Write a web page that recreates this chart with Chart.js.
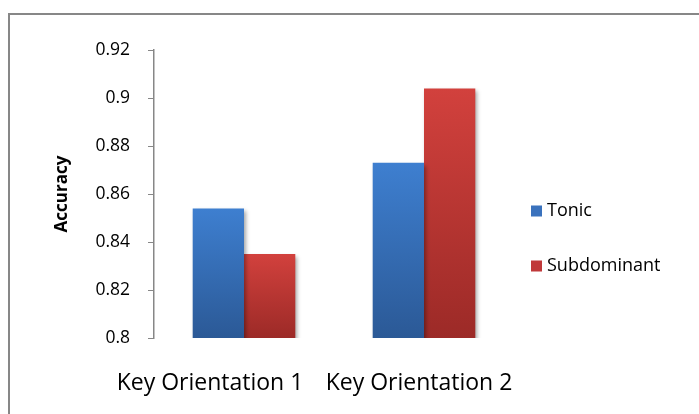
<!DOCTYPE html>
<html>
<head>
<meta charset="utf-8">
<script src="https://cdn.jsdelivr.net/npm/chart.js@4/dist/chart.umd.min.js"></script>
<style>
    html, body { margin: 0; padding: 0; background: #fff; }
    #wrap { position: relative; width: 699px; height: 414px; overflow: hidden; }
    #frame {
        position: absolute; left: 8px; top: 13px; right: -10px; bottom: -10px;
        border-left: 2px solid #878787; border-top: 2px solid #878787;
    }
    canvas { position: absolute; left: 0; top: 0; }
</style>
</head>
<body>
<div id="wrap">
    <div id="frame"></div>
    <canvas id="chart" width="699" height="414"></canvas>
</div>
<script>
// Данные графика
const categories = ['Key Orientation 1', 'Key Orientation 2'];
const seriesNames = ['Tonic', 'Subdominant'];
const tonicValues = [0.854, 0.873];
const subdominantValues = [0.835, 0.904];
const yTicks = [0.8, 0.82, 0.84, 0.86, 0.88, 0.9, 0.92];

const FONT = '"Open Sans", "Noto Sans", sans-serif';

// цвета градиента: верх / низ столбца
const palette = [
    { top: '#3e7fd0', bottom: '#2b5996', flat: '#3a72bd' },
    { top: '#d2413d', bottom: '#9c2a27', flat: '#c0393a' }
];

// сдвиг подписей категорий, как у Excel
const labelShift = [-34, -5];

function barGradient(ctx, idx) {
    const chart = ctx.chart;
    const c = palette[idx];
    if (!chart.chartArea || ctx.raw == null) return c.flat;
    const y = chart.scales.y;
    const top = y.getPixelForValue(ctx.raw);
    const bottom = y.getPixelForValue(y.min);
    const g = chart.ctx.createLinearGradient(0, top, 0, bottom);
    g.addColorStop(0, c.top);
    g.addColorStop(1, c.bottom);
    return g;
}

const extras = {
    id: 'extras',
    beforeDatasetsDraw(chart) {
        const ctx = chart.ctx;
        ctx.save();
        ctx.shadowColor = 'rgba(0,0,0,0.35)';
        ctx.shadowBlur = 4;
        ctx.shadowOffsetX = 2;
        ctx.shadowOffsetY = 3;
    },
    afterDatasetsDraw(chart) {
        chart.ctx.restore();
    },
    afterDraw(chart) {
        const ctx = chart.ctx;
        const x = chart.scales.x;
        const area = chart.chartArea;
        ctx.save();
        // подписи категорий
        ctx.fillStyle = '#000';
        ctx.font = '23px ' + FONT;
        ctx.textAlign = 'center';
        ctx.textBaseline = 'middle';
        categories.forEach((label, i) => {
            ctx.fillText(label, x.getPixelForValue(i) + labelShift[i], area.bottom + 45);
        });
        // легенда
        ctx.font = '18px ' + FONT;
        ctx.textAlign = 'left';
        chart.data.datasets.forEach((ds, i) => {
            const cy = 211 + i * 55;
            ctx.fillStyle = palette[i].flat;
            ctx.fillRect(area.right + 17, cy - 5.5, 11, 11);
            ctx.fillStyle = '#000';
            ctx.fillText(ds.label, area.right + 33, cy);
        });
        ctx.restore();
    }
};

new Chart(document.getElementById('chart'), {
    type: 'bar',
    data: {
        labels: categories,
        datasets: [
            {
                label: seriesNames[0],
                data: tonicValues,
                backgroundColor: ctx => barGradient(ctx, 0),
                categoryPercentage: 0.57,
                barPercentage: 1
            },
            {
                label: seriesNames[1],
                data: subdominantValues,
                backgroundColor: ctx => barGradient(ctx, 1),
                categoryPercentage: 0.57,
                barPercentage: 1
            }
        ]
    },
    options: {
        responsive: false,
        animation: false,
        layout: { padding: { left: 0, top: 50, right: 185, bottom: 0 } },
        plugins: {
            legend: { display: false },
            tooltip: { enabled: false }
        },
        scales: {
            x: {
                grid: { display: false },
                border: { display: false },
                ticks: { display: false },
                afterFit(scale) { scale.height = 76; }
            },
            y: {
                min: 0.8,
                max: 0.92,
                afterBuildTicks(scale) {
                    scale.ticks = yTicks.map(v => ({ value: v }));
                },
                afterFit(scale) { scale.width = 154; },
                grid: {
                    drawOnChartArea: false,
                    drawTicks: true,
                    tickLength: 6,
                    color: '#878787'
                },
                border: { display: true, color: '#878787', width: 1.5 },
                ticks: {
                    color: '#000',
                    padding: 18,
                    font: { family: FONT, size: 17.5 },
                    callback: v => String(+v.toFixed(2))
                },
                title: {
                    display: true,
                    text: 'Accuracy',
                    color: '#000',
                    padding: { top: 52 },
                    font: { family: FONT, size: 17, weight: 'bold' }
                }
            }
        }
    },
    plugins: [extras]
});
</script>
</body>
</html>
